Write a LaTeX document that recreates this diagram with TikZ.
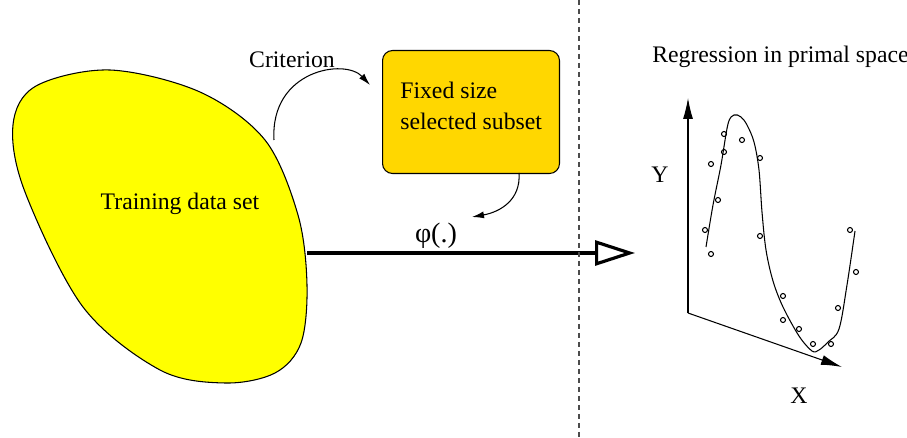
\documentclass[tikz,border=0pt]{standalone}
\usepackage{fontspec}
\setmainfont{Liberation Serif}
\usetikzlibrary{arrows.meta}
\definecolor{blobyellow}{RGB}{255,255,0}
\definecolor{boxgold}{RGB}{255,215,0}
\begin{document}
\begin{tikzpicture}[x=0.02cm, y=-0.02cm, font=\fontsize{13.5}{16}\selectfont,
  thinline/.style={line width=0.6pt},
  dot/.style={circle, draw, thinline, inner sep=0, minimum size=0.1cm},
  axis/.style={thinline, -{Latex[length=0.42cm, width=0.2cm]}},
  curvedarrow/.style={thinline, -{Latex[length=0.24cm, width=0.14cm]}}]
\path[use as bounding box, clip] (0,0) rectangle (907,438);
% left half
\draw[thinline, fill=blobyellow] plot[smooth cycle, tension=0.55] coordinates {(13,125) (25,192) (83,307) (160,370) (225,383) (275,373) (301,343) (307,285) (298,215) (265,140) (200,92) (110,70) (36,86)};
\node (train) at (180,204) {Training data set};
\coordinate (blobtop) at (274,140);
\coordinate (blobright) at (307,253);
\node[draw, thinline, fill=boxgold, rounded corners=0.2cm, anchor=north west, minimum width=3.54cm, minimum height=2.46cm] (subset) at (382,50) {};
\node[anchor=west, align=left, inner sep=0] (subsetlbl) at (400,106) {Fixed size\\[2pt]selected subset};
\node (crit) at (292,60) {Criterion};
\coordinate (critend) at (370,85);
\draw[curvedarrow] (blobtop) .. controls (270,70) and (345,58) .. (critend);
\coordinate (subsetout) at (519,173);
\node[font=\fontsize{16}{18}\selectfont] (phi) at (436,236) {φ(.)};
\coordinate (phiin) at (472,217);
\draw[curvedarrow] (subsetout) .. controls (521,200) and (500,212) .. (phiin);
\coordinate (bigtip) at (635,253);
\draw[line width=1.8pt, -{Triangle[open, length=0.8cm, width=0.5cm]}] (blobright) -- (bigtip);
% divider
\coordinate (divtop) at (579,0);
\coordinate (divbot) at (579,438);
\draw[thinline, black!70, dash pattern=on 0.1cm off 0.08cm] (divtop) -- (divbot);
% right half
\node[anchor=west, inner sep=0] (regr) at (652,57) {Regression in primal space};
\coordinate (origin) at (688,313);
\coordinate (ytip) at (688,98);
\coordinate (xtip) at (842,367);
\draw[axis] (origin) -- (ytip);
\draw[axis] (origin) -- (xtip);
\node (ylbl) at (660,175) {Y};
\node (xlbl) at (799,396) {X};
\draw[thinline] plot[smooth, tension=0.55] coordinates {(706,247) (713,205) (721,165) (728,124) (734,115) (741,117) (747,125) (754,142) (759,170) (762,212) (766,250) (773,281) (783,307) (799,336) (812,351) (819,350) (828,342) (839,329) (847,285) (855,231)};
\node[dot] (p1) at (724,134) {};
\node[dot] (p2) at (742,140) {};
\node[dot] (p3) at (724,152) {};
\node[dot] (p4) at (711,164) {};
\node[dot] (p5) at (760,158) {};
\node[dot] (p6) at (718,200) {};
\node[dot] (p7) at (705,230) {};
\node[dot] (p8) at (760,236) {};
\node[dot] (p9) at (711,254) {};
\node[dot] (p10) at (850,230) {};
\node[dot] (p11) at (856,272) {};
\node[dot] (p12) at (783,296) {};
\node[dot] (p13) at (783,320) {};
\node[dot] (p14) at (799,329) {};
\node[dot] (p15) at (838,308) {};
\node[dot] (p16) at (813,344) {};
\node[dot] (p17) at (831,344) {};
\end{tikzpicture}
\end{document}
